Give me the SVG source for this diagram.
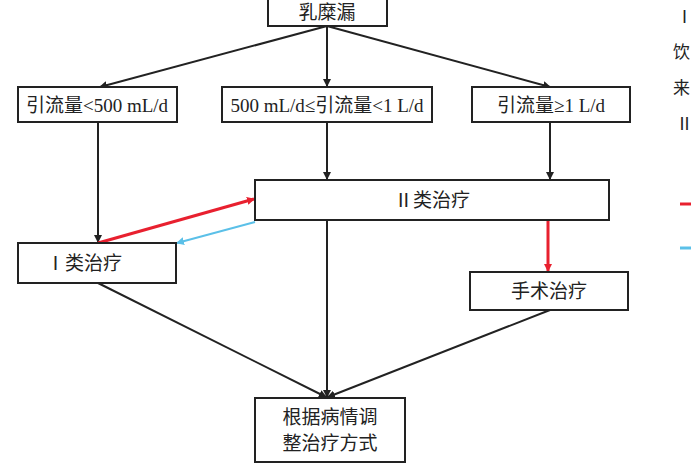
<svg xmlns="http://www.w3.org/2000/svg" width="691" height="470" viewBox="0 0 691 470">
<style>
rect{fill:#fff;stroke:#222;stroke-width:2}
text{font-family:"Liberation Serif","Noto Sans CJK SC",serif;font-size:19px;fill:#222;text-anchor:middle}
.c line{stroke:#222;stroke-width:2}
.lg{font-size:17px;text-anchor:start}
</style>
<defs>
<marker id="a" markerWidth="8" markerHeight="8" refX="7" refY="4" orient="auto" markerUnits="userSpaceOnUse"><path d="M0,0L8,4L0,8z" fill="#222"/></marker>
<marker id="r" markerWidth="8" markerHeight="8" refX="7" refY="4" orient="auto" markerUnits="userSpaceOnUse"><path d="M0,0L8,4L0,8z" fill="#e8202f"/></marker>
<marker id="b" markerWidth="8" markerHeight="8" refX="7" refY="4" orient="auto" markerUnits="userSpaceOnUse"><path d="M0,0L8,4L0,8z" fill="#5bc0e8"/></marker>
</defs>
<g class="c">
<line x1="327" y1="26" x2="100" y2="87" marker-end="url(#a)"/>
<line x1="327" y1="26" x2="327" y2="86" marker-end="url(#a)"/>
<line x1="327" y1="26" x2="550" y2="87" marker-end="url(#a)"/>
<line x1="98" y1="122" x2="98" y2="242" marker-end="url(#a)"/>
<line x1="327" y1="122" x2="327" y2="179" marker-end="url(#a)"/>
<line x1="550" y1="122" x2="550" y2="179" marker-end="url(#a)"/>
<line x1="327" y1="220" x2="327" y2="397" marker-end="url(#a)"/>
<line x1="98" y1="283" x2="326" y2="397" marker-end="url(#a)"/>
<line x1="550" y1="310" x2="328" y2="397" marker-end="url(#a)"/>
<line x1="98" y1="243" x2="254" y2="199" style="stroke:#e8202f;stroke-width:3" marker-end="url(#r)"/>
<line x1="255" y1="222" x2="177" y2="243" style="stroke:#5bc0e8;stroke-width:2" marker-end="url(#b)"/>
<line x1="548" y1="220" x2="548" y2="271" style="stroke:#e8202f;stroke-width:3" marker-end="url(#r)"/>
</g>
<g id="n0"><rect x="268" y="-4" width="119" height="30"/><text x="327" y="19">乳糜漏</text></g>
<g id="n1"><rect x="18" y="87" width="159" height="35"/><text x="97" y="112">引流量&lt;500 mL/d</text></g>
<g id="n2"><rect x="222" y="87" width="210" height="35"/><text x="327" y="112">500 mL/d≤引流量&lt;1 L/d</text></g>
<g id="n3"><rect x="472" y="87" width="158" height="35"/><text x="551" y="112">引流量≥1 L/d</text></g>
<g id="n4"><rect x="255" y="180" width="354" height="40"/><text x="432" y="207">Ⅱ类治疗</text></g>
<g id="n5"><rect x="18" y="243" width="158" height="40"/><text x="84" y="270">Ⅰ类治疗</text></g>
<g id="n6"><rect x="470" y="272" width="158" height="38"/><text x="549" y="298">手术治疗</text></g>
<g id="n7"><rect x="255" y="398" width="150" height="64"/><text x="330" y="424">根据病情调</text><text x="330" y="450">整治疗方式</text></g>
<g id="legend">
<text class="lg" x="676" y="23">Ⅰ</text>
<text class="lg" x="673" y="58">饮</text>
<text class="lg" x="673" y="94">来</text>
<text class="lg" x="676" y="130">Ⅱ</text>
<line x1="680" y1="204" x2="691" y2="204" stroke="#e8202f" stroke-width="3"/>
<line x1="680" y1="248" x2="691" y2="248" stroke="#5bc0e8" stroke-width="3"/>
</g>
</svg>
